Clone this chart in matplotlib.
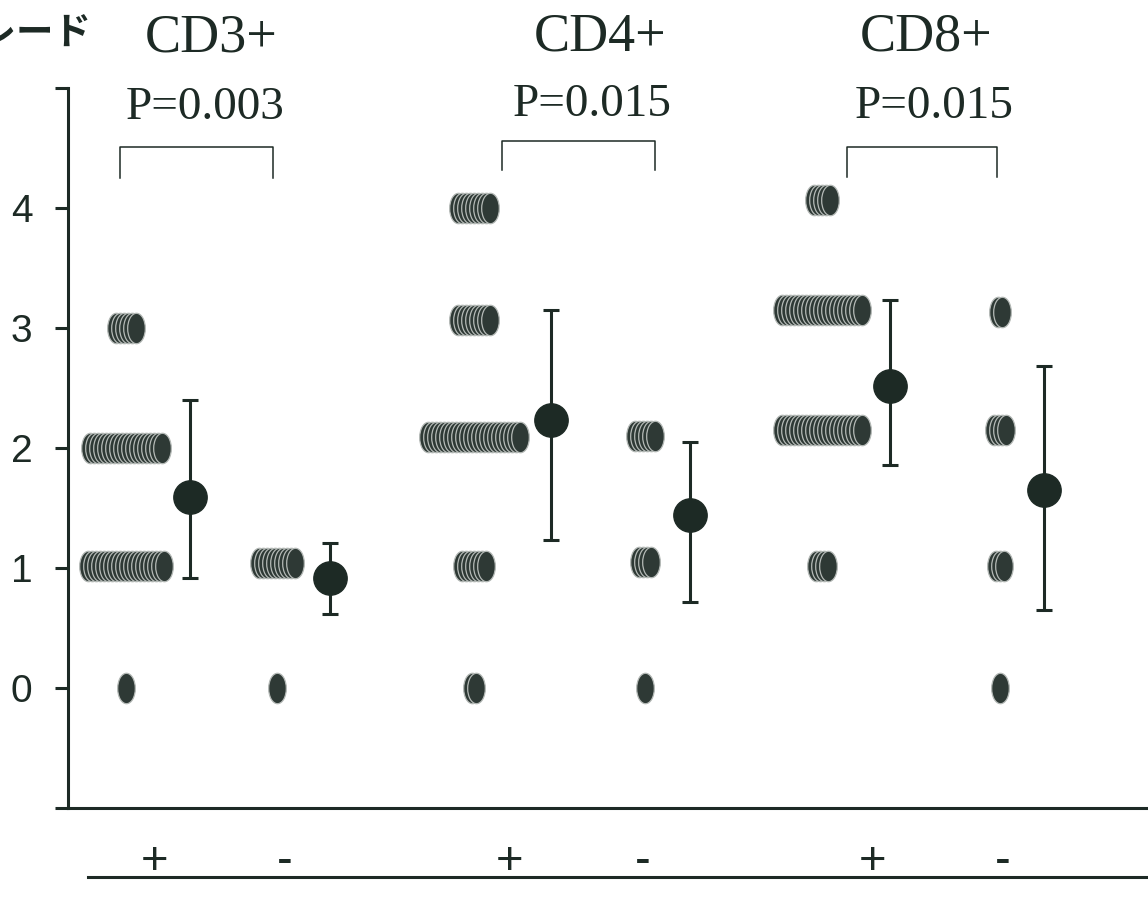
import numpy as np
import matplotlib
matplotlib.use("Agg")
import matplotlib.pyplot as plt
from matplotlib.path import Path
from matplotlib.transforms import Affine2D
from matplotlib.lines import Line2D

W, H = 1148, 906
INK = "#1d2a25"
DISK_FACE = "#2e3935"
DISK_EDGE = "#b4b9b6"

# grade levels and how many patients sit on each level
cd3_pos_levels = [0, 1.02, 2.0, 3.0]
cd3_pos_counts = [1, 20, 19, 6]
cd3_neg_levels = [0, 1.04]
cd3_neg_counts = [1, 10]
cd4_pos_levels = [0, 1.02, 2.09, 3.07, 4.0]
cd4_pos_counts = [2, 7, 24, 9, 9]
cd4_neg_levels = [0, 1.05, 2.1]
cd4_neg_counts = [1, 4, 6]
cd8_pos_levels = [1.02, 2.15, 3.15, 4.07]
cd8_pos_counts = [4, 21, 21, 5]
cd8_neg_levels = [0, 1.02, 2.15, 3.13]
cd8_neg_counts = [1, 3, 4, 2]

# mean and error bar ends per column
means = [1.59, 0.92, 2.23, 1.44, 2.52, 1.65]
err_lo = [0.92, 0.62, 1.23, 0.72, 1.86, 0.65]
err_hi = [2.40, 1.21, 3.15, 2.05, 3.23, 2.68]

groups = ["CD3+", "CD4+", "CD8+"]
p_values = ["P=0.003", "P=0.015", "P=0.015"]
x_labels = ["+", "-", "+", "-", "+", "-"]

columns = [
    (cd3_pos_levels, cd3_pos_counts), (cd3_neg_levels, cd3_neg_counts),
    (cd4_pos_levels, cd4_pos_counts), (cd4_neg_levels, cd4_neg_counts),
    (cd8_pos_levels, cd8_pos_counts), (cd8_neg_levels, cd8_neg_counts),
]

# layout (x in pixel-like units from the left spine)
col_x = [58, 209, 406, 577, 754, 932]
mean_x = [122, 262, 483, 622, 822, 976]
label_x = [87, 217, 442, 575, 805, 935]
step = 4.0

fig = plt.figure(figsize=(W / 100, H / 100), dpi=100)
ax = fig.add_axes([68 / W, 1 - 808 / H, 1080 / W, 720 / H])
ax.set_xlim(0, 1080)
ax.set_ylim(-1, 5)

# stacked coin-like disks
disk = Path.unit_circle().transformed(Affine2D().scale(0.58, 1.0))
for cx, (levels, counts) in zip(col_x, columns):
    for lev, n in zip(levels, counts):
        xs = cx + (np.arange(n) - (n - 1) / 2) * step
        ax.scatter(xs, np.full(n, lev), marker=disk, s=480, c=DISK_FACE,
                   edgecolors=DISK_EDGE, linewidths=0.9, zorder=3)

# mean +/- SD
for mx, m, lo, hi in zip(mean_x, means, err_lo, err_hi):
    ax.errorbar(mx, m, yerr=[[m - lo], [hi - m]], fmt="o", ms=24, color=INK,
                mfc=INK, mec=INK, elinewidth=2.2, capsize=6, capthick=2.2, zorder=4)

# significance brackets
brackets = [(52, 205, 4.51, 4.25), (434, 587, 4.56, 4.32), (779, 929, 4.51, 4.26)]
for x0, x1, ytop, ybot in brackets:
    ax.plot([x0, x0, x1, x1], [ybot, ytop, ytop, ybot], color=INK, lw=1.1,
            clip_on=False, zorder=2)

for s in ["top", "right"]:
    ax.spines[s].set_visible(False)
ax.spines["left"].set_linewidth(2.2)
ax.spines["bottom"].set_linewidth(2.2)
ax.spines["left"].set_color(INK)
ax.spines["bottom"].set_color(INK)

ax.set_yticks(range(-1, 6))
ax.set_yticklabels(["", "0", "1", "2", "3", "4", ""], family="Liberation Sans")
ax.tick_params(axis="y", length=9.5, width=2.2, pad=16, labelsize=28,
               colors=INK)
ax.set_xticks([])

for lx, lab in zip(label_x, x_labels):
    ax.text(lx, -0.075, lab, transform=ax.get_xaxis_transform(), ha="center",
            va="center", fontsize=34, family="Liberation Sans", color=INK)

# texts above the plot
title_px = [(211, 38), (600, 37), (926, 37)]
p_px = [(205, 108), (592, 105), (934, 107)]
for (tx, ty), g in zip(title_px, groups):
    fig.text(tx / W, 1 - ty / H, g, ha="center", va="center", fontsize=39,
             family="Liberation Serif", color=INK)
for (tx, ty), p in zip(p_px, p_values):
    fig.text(tx / W, 1 - ty / H, p, ha="center", va="center", fontsize=34,
             family="Liberation Serif", color=INK)

# axis title, cut off at the left edge as in the scan
fig.text(92 / W, 1 - 32 / H, "グレード", ha="right", va="center", fontsize=27,
         family=["Noto Sans CJK JP", "DejaVu Sans"], fontweight="bold", color=INK)

# lower rule under the +/- labels
fig.add_artist(Line2D([88 / W, 1.0], [1 - 877 / H, 1 - 877 / H], color=INK, lw=2.2))

fig.savefig("out.png", dpi=100, facecolor="white")
